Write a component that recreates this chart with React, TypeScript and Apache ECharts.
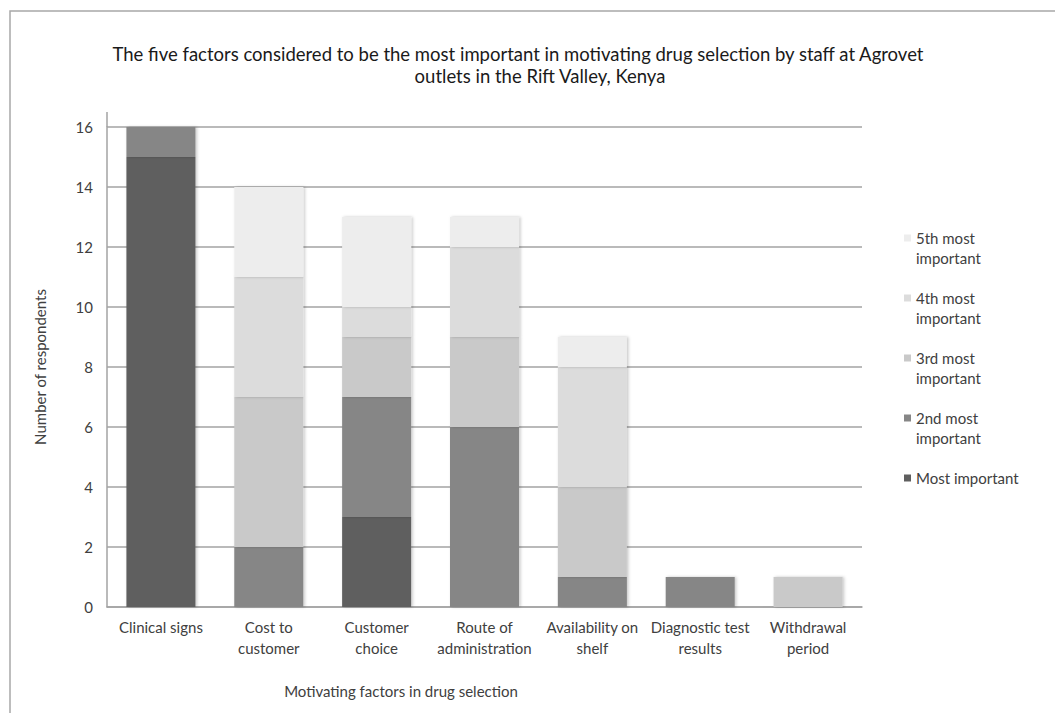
import React, { useEffect, useRef } from "react";
import * as echarts from "echarts";

// Motivating factors (x categories) and respondent counts per ranking level
const categories = [
  "Clinical signs",
  "Cost to\ncustomer",
  "Customer\nchoice",
  "Route of\nadministration",
  "Availability on\nshelf",
  "Diagnostic test\nresults",
  "Withdrawal\nperiod",
];
const mostImportant = [15, 0, 3, 0, 0, 0, 0];
const secondMost = [1, 2, 4, 6, 1, 1, 0];
const thirdMost = [0, 5, 2, 3, 3, 0, 1];
const fourthMost = [0, 4, 1, 3, 4, 0, 0];
const fifthMost = [0, 3, 3, 1, 1, 0, 0];

const seriesNames = [
  "Most important",
  "2nd most important",
  "3rd most important",
  "4th most important",
  "5th most important",
];
const seriesValues = [mostImportant, secondMost, thirdMost, fourthMost, fifthMost];
const seriesColors = ["#5f5f5f", "#868686", "#c9c9c9", "#dcdcdc", "#ededed"];
// Legend entries are laid out as three-line blocks so the swatch sits beside the first text line
const legendLabels: Record<string, string> = {
  "5th most important": "\n5th most\nimportant",
  "4th most important": "\n4th most\nimportant",
  "3rd most important": "\n3rd most\nimportant",
  "2nd most important": "\n2nd most\nimportant",
  "Most important": "\nMost important\n ",
};

const yMin = 0;
const yMax = 16;
const yStep = 2;

const titleLine1 =
  "The five factors considered to be the most important in motivating drug selection by staff at Agrovet";
const titleLine2 = "outlets in the Rift Valley, Kenya";
const xAxisTitle = "Motivating factors in drug selection";
const yAxisTitle = "Number of respondents";

const FONT = "Lato, 'Noto Sans', sans-serif";
const TEXT = "#404040";
const GRID_LINE = "#a3a3a3";
const LABEL_SIZE = 15;

export default function App() {
  const ref = useRef<HTMLDivElement>(null);

  useEffect(() => {
    if (!ref.current) return;
    const chart = echarts.init(ref.current, undefined, { renderer: "svg" });

    const gridLeft = 107;
    const baseGraphic: any[] = [
      {
        type: "rect",
        shape: { x: 10, y: 11, width: 1200, height: 900 },
        style: { fill: "none", stroke: "#a8a8a8", lineWidth: 1.5 },
        silent: true,
      },
      {
        type: "text",
        x: 401,
        y: 691,
        style: {
          text: xAxisTitle,
          font: `${LABEL_SIZE}px ${FONT}`,
          fill: TEXT,
          align: "center",
          verticalAlign: "middle",
        },
      },
    ];

    const titleStyle = {
      fontSize: 18.5,
      fontWeight: "normal",
      color: "#1a1a1a",
      fontFamily: FONT,
      lineHeight: 22,
    };

    chart.setOption({
      animation: false,
      backgroundColor: "#ffffff",
      textStyle: { fontFamily: FONT },
      title: [
        { text: titleLine1, left: 513, top: 38, textAlign: "center", textStyle: titleStyle },
        { text: titleLine2, left: 535, top: 60, textAlign: "center", textStyle: titleStyle },
      ],
      legend: {
        orient: "vertical",
        left: 904,
        top: 208,
        padding: 0,
        itemGap: 0,
        itemWidth: 7,
        itemHeight: 7,
        icon: "rect",
        data: [...seriesNames].reverse(),
        formatter: (name: string) => legendLabels[name] ?? name,
        textStyle: {
          color: TEXT,
          fontSize: LABEL_SIZE,
          fontFamily: FONT,
          lineHeight: 20,
        },
      },
      grid: { left: gridLeft, right: 193, top: 127, bottom: 106, containLabel: false },
      xAxis: {
        type: "category",
        data: categories,
        axisLine: { show: true, lineStyle: { color: GRID_LINE, width: 1.5 } },
        axisTick: { show: false },
        axisLabel: {
          interval: 0,
          margin: 9,
          color: TEXT,
          fontSize: LABEL_SIZE,
          fontFamily: FONT,
          lineHeight: 21,
        },
      },
      yAxis: {
        type: "value",
        min: yMin,
        max: yMax,
        interval: yStep,
        name: yAxisTitle,
        nameLocation: "middle",
        nameGap: 60,
        nameTextStyle: { color: TEXT, fontSize: LABEL_SIZE, fontFamily: FONT },
        axisLine: { show: true, lineStyle: { color: GRID_LINE, width: 1.5 } },
        axisTick: { show: false },
        axisLabel: { margin: 14, color: TEXT, fontSize: LABEL_SIZE, fontFamily: FONT },
        splitLine: { show: true, lineStyle: { color: GRID_LINE, width: 1.5 } },
      },
      series: seriesNames.map((name, i) => ({
        name,
        type: "bar",
        stack: "total",
        barWidth: "64%",
        data: seriesValues[i],
        itemStyle: {
          color: seriesColors[i],
          shadowColor: "rgba(0,0,0,0.22)",
          shadowBlur: 3,
          shadowOffsetX: 1.5,
          shadowOffsetY: 0,
        },
      })),
      graphic: baseGraphic,
    });

    // The value axis line continues a little above the top gridline
    const yTop = chart.convertToPixel({ yAxisIndex: 0 }, yMax) as number;
    chart.setOption({
      graphic: [
        ...baseGraphic,
        {
          type: "line",
          shape: { x1: gridLeft, y1: yTop - 15, x2: gridLeft, y2: yTop },
          style: { stroke: GRID_LINE, lineWidth: 1.5 },
          silent: true,
        },
      ],
    });

    return () => chart.dispose();
  }, []);

  return (
    <div
      ref={ref}
      style={{ position: "fixed", left: 0, top: 0, width: 1055, height: 713, background: "#fff" }}
    />
  );
}
